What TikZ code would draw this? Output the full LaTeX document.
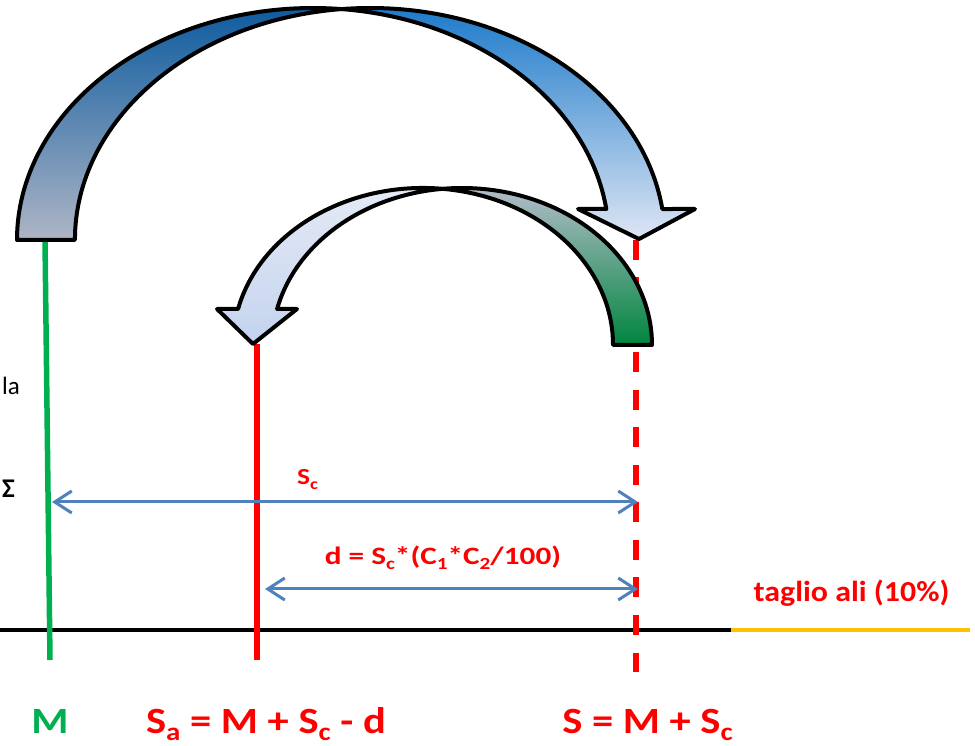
\documentclass[tikz,border=0pt]{standalone}
\usepackage{fontspec}
\setmainfont{Carlito}
\usetikzlibrary{arrows.meta}
\definecolor{myblue}{RGB}{79,129,189}
\definecolor{myred}{RGB}{255,0,0}
\definecolor{mygreen}{RGB}{0,176,80}
\definecolor{myorange}{RGB}{255,192,0}
\tikzset{
  band/.style={draw=black,line width=4,line join=round},
  bigback/.style={band,top color={rgb,255:red,12;green,90;blue,158},middle color={rgb,255:red,154;green,166;blue,191},bottom color={rgb,255:red,174;green,181;blue,197}},
  bigfront/.style={band,top color={rgb,255:red,21;green,118;blue,200},middle color={rgb,255:red,176;green,200;blue,234},bottom color={rgb,255:red,222;green,230;blue,244}},
  smallback/.style={band,top color={rgb,255:red,181;green,189;blue,203},middle color={rgb,255:red,152;green,164;blue,186},bottom color={rgb,255:red,0;green,133;blue,63}},
  smallfront/.style={band,top color={rgb,255:red,230;green,235;blue,246},bottom color={rgb,255:red,195;green,211;blue,238}},
  dim/.style={myblue,line width=3,{Straight Barb[length=17,width=22]}-{Straight Barb[length=17,width=22]}},
  lbl/.style={font=\bfseries\fontsize{#1}{#1}\selectfont,anchor=base,inner sep=0},
}
\newcommand{\wide}[2]{\scalebox{#1}[1]{#2}}
\newcommand{\sub}[1]{\raisebox{-0.19em}{\scalebox{0.68}{#1}}}
\begin{document}
\begin{tikzpicture}[x=1pt,y=1pt]
\useasboundingbox (0,0) rectangle (975,745);
% ground line
\coordinate (g0) at (0,115);
\coordinate (g1) at (731,115);
\coordinate (g2) at (970,115);
\draw[black,line width=4.5] (g0) -- (g1);
\draw[myorange,line width=4.5] (g1) -- (g2);
% vertical lines
\coordinate (mtop) at (45,505);
\coordinate (mbot) at (50,85);
\coordinate (satop) at (257,401);
\coordinate (sabot) at (257,85);
\coordinate (stop) at (636,505);
\coordinate (sbot) at (636,73);
\draw[mygreen,line width=5.5] (mtop) -- (mbot);
\draw[myred,line width=6.5] (satop) -- (sabot);
\draw[myred,line width=5.5,dash pattern=on 20 off 17.5] (stop) -- (sbot);
% big curved arrow
\path[bigback] (17,505) arc[start angle=180,end angle=84.47,x radius=296,y radius=232]
  arc[start angle=95.53,end angle=180,x radius=295,y radius=232] -- cycle;
\path[bigfront] (341.55,735.9) arc[start angle=95.53,end angle=7.68,x radius=295,y radius=232]
  -- (695,536) -- (639,506) -- (578,536) -- (606.3,536)
  arc[start angle=7.68,end angle=84.47,x radius=296,y radius=232] -- cycle;
% small curved arrow
\path[smallback] (652,400) arc[start angle=0,end angle=95.89,x radius=190,y radius=157]
  arc[start angle=84.11,end angle=0,x radius=190,y radius=157] -- cycle;
\path[smallfront] (442.5,556.2) arc[start angle=84.11,end angle=166.74,x radius=190,y radius=157]
  -- (217,436) -- (253,401) -- (297,436) -- (277.1,436)
  arc[start angle=166.74,end angle=95.89,x radius=190,y radius=157] -- cycle;
% dimension arrows
\coordinate (a1l) at (52,243);
\coordinate (a1r) at (638,243);
\coordinate (a2l) at (265,156);
\coordinate (a2r) at (638,156);
\draw[dim] (a1l) -- (a1r);
\draw[dim] (a2l) -- (a2r);
% labels
\node[lbl=23,text=myred] (sc) at (307.5,260) {\wide{1.2}{S\sub{c}}};
\node[lbl=25,text=myred] (dl) at (443,180) {\wide{1.25}{d = S\sub{c}*(C\sub{1}*C\sub{2}/100)}};
\node[lbl=29,text=myred] (tg) at (851.5,143) {\wide{1.1}{taglio ali (10\%)}};
\node[lbl=37,text=mygreen] (mlab) at (50,12) {\wide{1.15}{M}};
\node[lbl=37,text=myred] (salab) at (266,12) {\wide{1.15}{S\sub{a} = M + S\sub{c} - d}};
\node[lbl=37,text=myred] (slab) at (647.5,12) {\wide{1.15}{S = M + S\sub{c}}};
\node[font=\fontsize{25}{25}\selectfont,anchor=base west,inner sep=0] (la) at (2,350) {la};
\node[font=\bfseries\fontsize{27}{27}\selectfont,anchor=base west,inner sep=0] (sig) at (2,247) {Σ};
\end{tikzpicture}
\end{document}
